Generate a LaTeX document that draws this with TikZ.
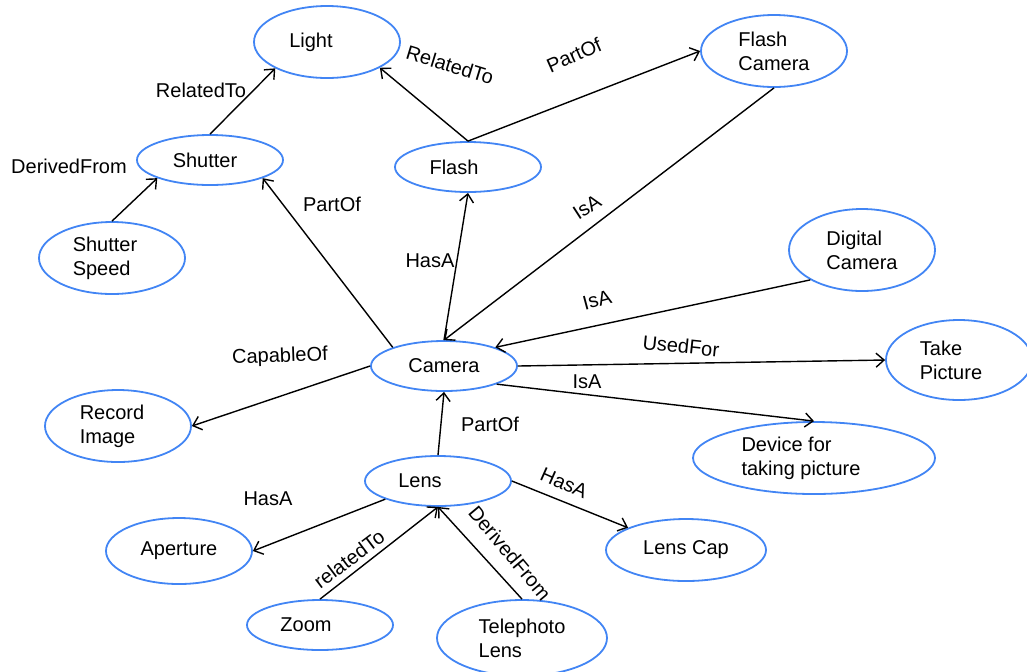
\documentclass[tikz,border=0pt]{standalone}
\usepackage{fontspec}
\setmainfont{Liberation Sans}
\usetikzlibrary{shapes.geometric,arrows.meta}
\definecolor{conceptblue}{RGB}{66,133,244}

\begin{document}
\begin{tikzpicture}[x=0.5pt,y=-0.5pt,
        concept/.style={ellipse,draw=conceptblue,line width=0.9pt,minimum width=73pt,
          minimum height=25pt,inner sep=1pt,align=left},
        textleft/.style={execute at end node={\hspace*{#1}}},
        rel/.style={->,line width=0.7pt},
        lbl/.style={inner sep=0pt},
        >={Straight Barb[length=4pt,width=7pt]}]
       \useasboundingbox (0,0) rectangle (1027,671);
       % concepts
       \node[concept,minimum height=36pt,textleft=16pt] (light) at (327,42) {Light};
       \node[concept,textleft=5pt] (shutter) at (210,160) {Shutter};
       \node[concept,minimum height=36pt,textleft=7pt] (speed) at (112,258) {Shutter\\Speed};
       \node[concept,textleft=14pt] (flash) at (468,167) {Flash};
       \node[concept,minimum height=36pt] (flashcam) at (774,51) {Flash\\Camera};
       \node[concept,minimum height=41pt] (digital) at (862,250) {Digital\\Camera};
       \node[concept] (camera) at (444,366) {Camera};
       \node[concept,minimum height=36pt,textleft=6pt] (record) at (118,426) {Record\\Image};
       \node[concept,minimum height=40pt,textleft=8pt] (take) at (959,360) {Take\\Picture};
       \node[concept,minimum width=121pt,minimum height=36pt,textleft=13pt] (device) at (814,458) {Device for\\taking picture};
       \node[concept,textleft=18pt] (lens) at (438,481) {Lens};
       \node[concept,minimum height=33pt] (aperture) at (179,551) {Aperture};
       \node[concept,minimum width=80pt,minimum height=31pt] (lenscap) at (686,550) {Lens Cap};
       \node[concept,textleft=14pt] (zoom) at (320,625) {Zoom};
       \node[concept,minimum width=85pt,minimum height=38pt] (tele) at (522,638) {Telephoto\\Lens};
       % relations
       \draw[rel] (shutter.north) -- (light.207);
       \draw[rel] (flash.north) -- (light.-26);
       \draw[rel] (flash.north) -- (flashcam.west);
       \draw[rel] (flashcam.south) -- (camera.north);
       \draw[rel] (camera.north) -- (flash.south);
       \draw[rel] (camera.160) -- (shutter.-19);
       \draw[rel] (speed.north) -- (shutter.199);
       \draw[rel] (digital.210) -- (camera.20);
       \draw[rel] (camera.east) -- (take.west);
       \draw[rel] (camera.-19) -- (device.north);
       \draw[rel] (camera.west) -- (record.east);
       \draw[rel] (lens.north) -- (camera.south);
       \draw[rel] (lens.199) -- (aperture.east);
       \draw[rel] (lens.east) -- (lenscap.159);
       \draw[rel] (zoom.north) -- (lens.south);
       \draw[rel] (tele.north) -- (lens.south);
       % relation names
       \node[lbl] (l-sl) at (201,90) {RelatedTo};
       \node[lbl,rotate=-17] (l-fl) at (450,65) {RelatedTo};
       \node[lbl,rotate=24] (l-ffc) at (574,55) {PartOf};
       \node[lbl,rotate=33] (l-fcc) at (587,207) {IsA};
       \node[lbl] (l-cf) at (430,261) {HasA};
       \node[lbl] (l-cs) at (332,204) {PartOf};
       \node[lbl] (l-ss) at (69,166) {DerivedFrom};
       \node[lbl,rotate=15] (l-dc) at (597,300) {IsA};
       \node[lbl,rotate=-6] (l-ct) at (681,346) {UsedFor};
       \node[lbl] (l-cd) at (587,382) {IsA};
       \node[lbl,rotate=2] (l-cr) at (280,357) {CapableOf};
       \node[lbl] (l-lc) at (490,424) {PartOf};
       \node[lbl] (l-la) at (268,499) {HasA};
       \node[lbl,rotate=-24] (l-lcap) at (564,483) {HasA};
       \node[lbl,rotate=37] (l-zl) at (349,559) {relatedTo};
       \node[lbl,rotate=-50] (l-tl) at (510,553) {DerivedFrom};
    \end{tikzpicture}
\end{document}
